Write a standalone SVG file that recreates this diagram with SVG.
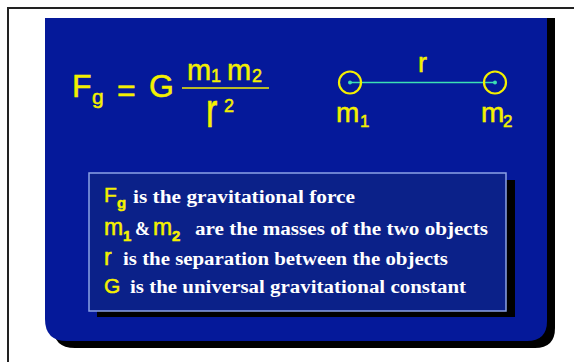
<svg xmlns="http://www.w3.org/2000/svg" width="574" height="362" viewBox="0 0 574 362">
<style>
.y{fill:#f4f000;font-family:"Liberation Sans",Arial,sans-serif;stroke:#f4f000;stroke-width:0.5}
.w{fill:#ffffff;font-family:"Liberation Serif","Times New Roman",serif;font-weight:bold;font-size:18px}
.sb{font-weight:bold}
</style>
<rect width="574" height="362" fill="#ffffff"/>
<g id="frame">
<rect x="8" y="8" width="580" height="370" fill="none" stroke="#222" stroke-width="2"/>
</g>
<g id="panel">
<path d="M53,18 H555 V328 Q555,348 535,348 H75 Q53,348 53,326 Z" fill="#000"/>
<path d="M45,18 H547 V321 Q547,341 527,341 H67 Q45,341 45,319 Z" fill="#05199a"/>
</g>
<g id="formula" class="y">
<text x="72" y="97" font-size="32">F</text>
<text x="92" y="104" font-size="21">g</text>
<text x="117" y="101" font-size="32">=</text>
<text x="149" y="97" font-size="32">G</text>
<line x1="182" y1="88" x2="269" y2="88" stroke="#f4f000" stroke-width="1.6"/>
<text x="187" y="80" font-size="29">m</text>
<text x="211" y="82" font-size="18">1</text>
<text x="227" y="80" font-size="29">m</text>
<text x="252" y="82" font-size="18">2</text>
<text x="0" y="0" font-size="34" transform="translate(206,127) scale(1,1.4)">r</text>
<text x="224" y="112" font-size="18">2</text>
</g>
<g id="connectors">
<line x1="350" y1="82.5" x2="495" y2="82.5" stroke="#3ce0b4" stroke-width="1.4"/>
</g>
<g id="mass1">
<circle cx="350" cy="82.5" r="11" fill="none" stroke="#f4f000" stroke-width="2.2"/>
<circle cx="350" cy="82.5" r="2" fill="#3ce0b4"/>
<text class="y" x="336" y="122" font-size="28">m</text>
<text class="y" x="360" y="127" font-size="17">1</text>
</g>
<g id="mass2">
<circle cx="495" cy="82.5" r="11" fill="none" stroke="#f4f000" stroke-width="2.2"/>
<circle cx="495" cy="82.5" r="2" fill="#3ce0b4"/>
<text class="y" x="481" y="122" font-size="28">m</text>
<text class="y" x="503" y="127" font-size="17">2</text>
</g>
<g id="r-label">
<text class="y" x="418" y="72" font-size="27">r</text>
</g>
<g id="legend">
<rect x="97" y="180" width="418" height="137" fill="#000"/>
<rect x="89" y="173" width="417" height="138" fill="#0b2189" stroke="#8ca2e6" stroke-width="1.5"/>
<text class="y" x="104" y="202" font-size="21">F</text>
<text class="y sb" x="117" y="208" font-size="15">g</text>
<text class="w" x="133" y="203" textLength="222" lengthAdjust="spacingAndGlyphs">is the gravitational force</text>
<text class="y" x="104" y="235" font-size="23">m</text>
<text class="y sb" x="123" y="241" font-size="15">1</text>
<text class="w" x="135" y="235" font-size="16">&amp;</text>
<text class="y" x="153" y="235" font-size="23">m</text>
<text class="y sb" x="172" y="241" font-size="15">2</text>
<text class="w" x="195" y="235" textLength="293" lengthAdjust="spacingAndGlyphs">are the masses of the two objects</text>
<text class="y" x="104" y="265" font-size="23">r</text>
<text class="w" x="123" y="265" textLength="325" lengthAdjust="spacingAndGlyphs">is the separation between the objects</text>
<text class="y" x="104" y="293" font-size="21">G</text>
<text class="w" x="130" y="293" textLength="336" lengthAdjust="spacingAndGlyphs">is the universal gravitational constant</text>
</g>
</svg>
